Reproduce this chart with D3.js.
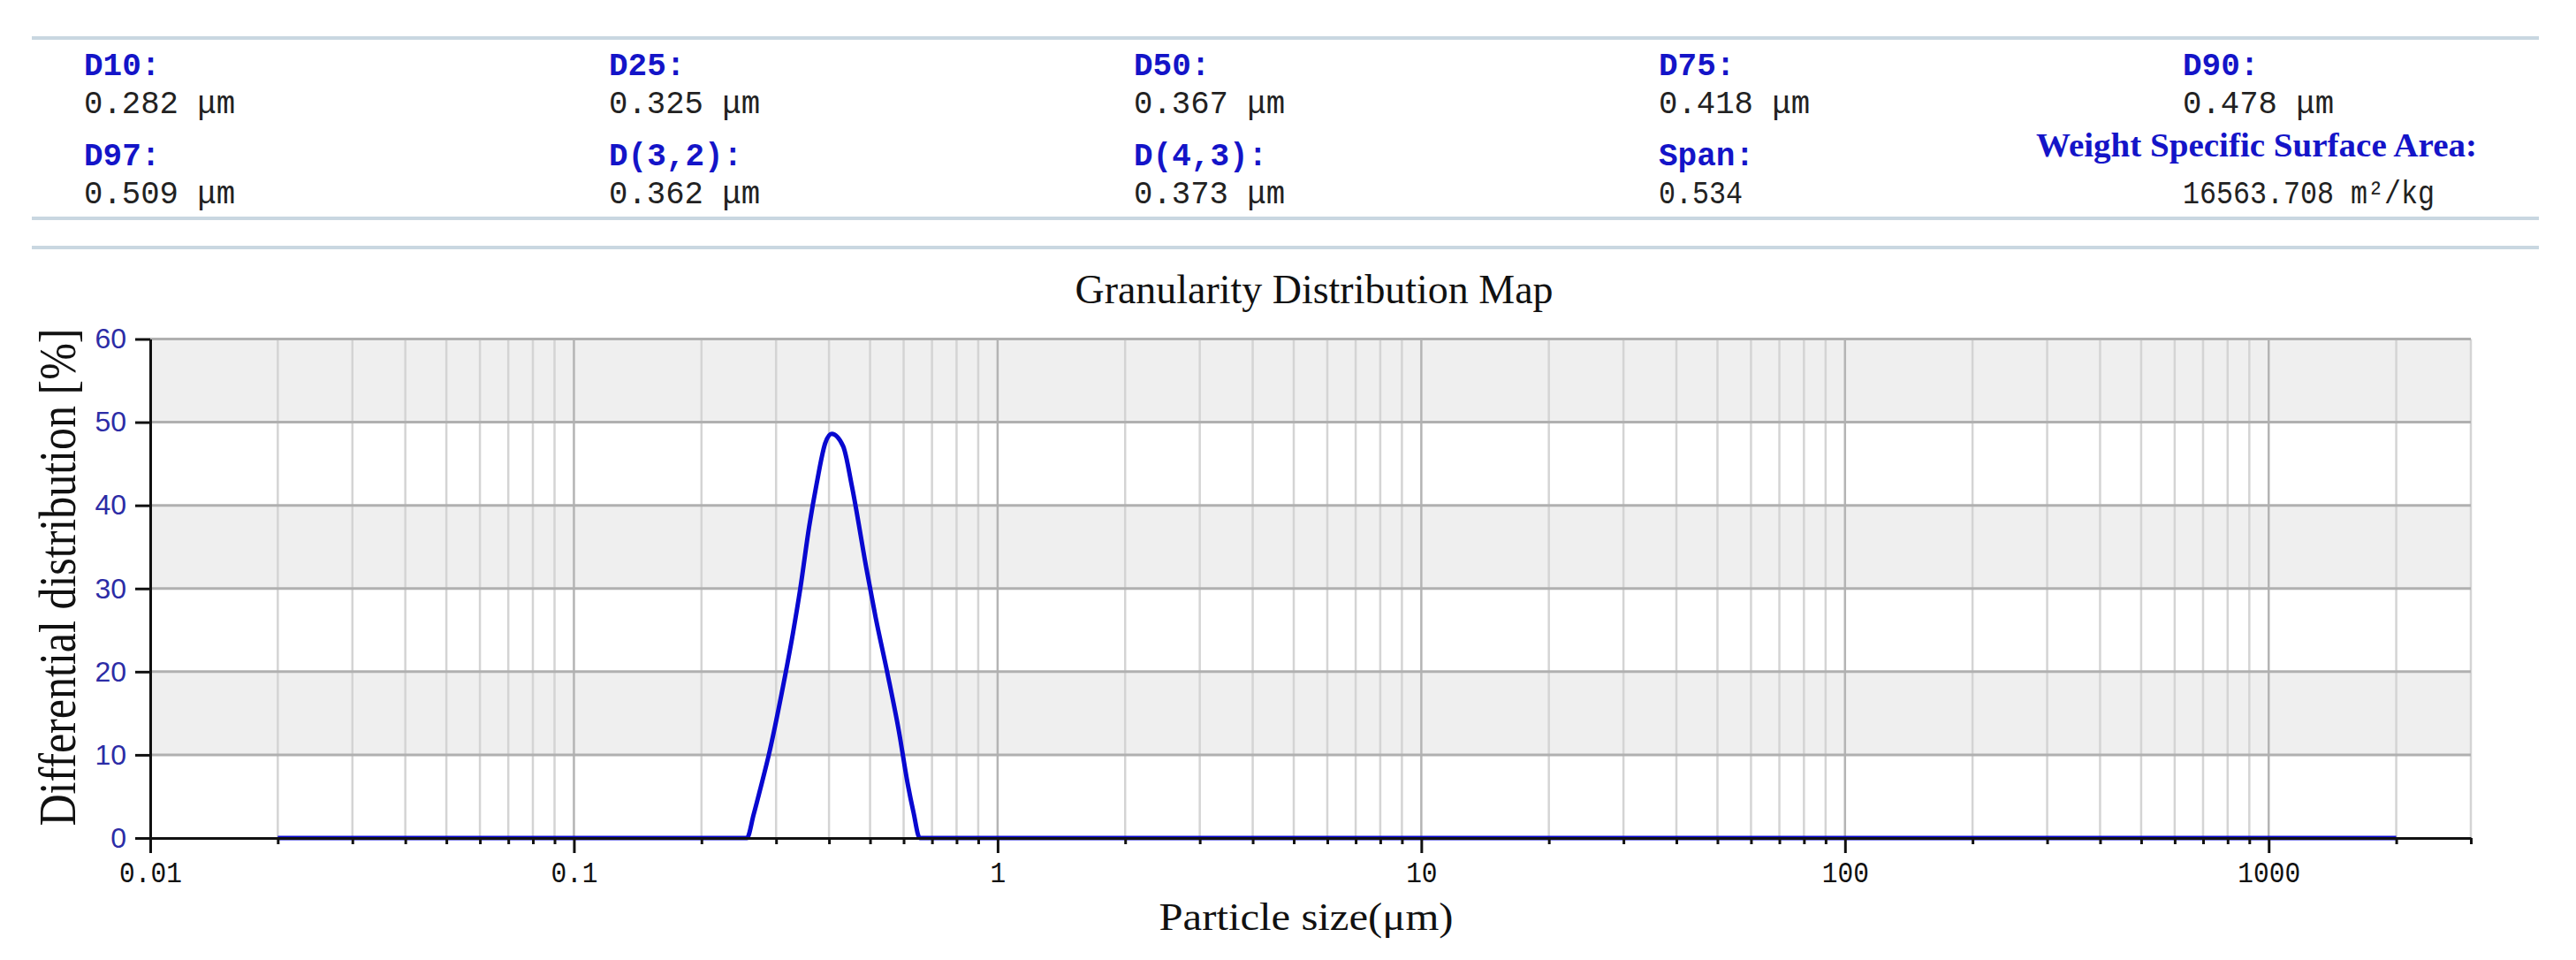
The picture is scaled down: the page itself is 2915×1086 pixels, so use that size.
<!DOCTYPE html>
<html>
<head>
<meta charset="utf-8">
<script src="https://cdn.jsdelivr.net/npm/d3@7"></script>
<style>
  body { margin: 0; background: #fff; }
  text { white-space: pre; }
</style>
</head>
<body>
<div id="chart"></div>
<script>
// summary values shown above the chart
const statNames1 = ["D10:", "D25:", "D50:", "D75:", "D90:"];
const statValues1 = ["0.282 μm", "0.325 μm", "0.367 μm", "0.418 μm", "0.478 μm"];
const statNames2 = ["D97:", "D(3,2):", "D(4,3):", "Span:", "Weight Specific Surface Area:"];
const statValues2 = ["0.509 μm", "0.362 μm", "0.373 μm", "0.534", "16563.708 m²/kg"];

// particle size (μm) and differential distribution (%)
const sizes = [0.02, 0.1, 0.2, 0.256, 0.2655, 0.276, 0.289, 0.309, 0.329, 0.342, 0.359, 0.374, 0.392, 0.406,
               0.432, 0.453, 0.491, 0.515, 0.549, 0.585, 0.614, 0.633, 0.655, 1, 10, 100, 2000];
const diffs = [0, 0, 0, 0, 2.8, 6.1, 10.2, 17.3, 24.7, 29.9, 37.4, 42.6, 47.5, 48.6,
               47.1, 42.3, 32.2, 26.6, 19.9, 12.8, 6.4, 3.1, 0, 0, 0, 0, 0];

const yTicks = [0, 10, 20, 30, 40, 50, 60];
const xMajor = [0.01, 0.1, 1, 10, 100, 1000];
const xLabels = ["0.01", "0.1", "1", "10", "100", "1000"];

const W = 2915, H = 1086;
const svg = d3.select("#chart").append("svg")
    .attr("width", W).attr("height", H);

// ---- header with the statistics ----
const lineColor = "#c9d7e1";
[43, 247, 280].forEach(yy => {
  svg.append("line")
      .attr("x1", 36).attr("x2", 2873).attr("y1", yy).attr("y2", yy)
      .attr("stroke", lineColor).attr("stroke-width", 4);
});

const colX = [95, 689, 1283, 1877, 2470];
const labelFont = "'Liberation Mono', 'DejaVu Sans Mono', monospace";

function statRow(names, values, yName, yVal) {
  names.forEach((n, i) => {
    const t = svg.append("text")
        .attr("x", colX[i]).attr("y", yName)
        .attr("fill", "#1414c8")
        .attr("font-weight", "bold")
        .text(n);
    if (n.length > 10) {
      // the long label is set in a serif face and starts further left
      t.attr("x", 2304).attr("y", yName - 10)
       .attr("font-family", "'Liberation Serif', 'Times New Roman', serif")
       .attr("font-size", 38)
       .attr("textLength", 499).attr("lengthAdjust", "spacingAndGlyphs");
    } else {
      t.attr("font-family", labelFont).attr("font-size", 37)
       .attr("textLength", n.length * 21.6).attr("lengthAdjust", "spacingAndGlyphs");
    }
    const v = values[i];
    svg.append("text")
        .attr("x", colX[i]).attr("y", yVal)
        .attr("font-family", labelFont).attr("font-size", 36)
        .attr("textLength", v.length * 19 + (v.indexOf("μ") >= 0 ? 19 : 0))
        .attr("lengthAdjust", "spacingAndGlyphs")
        .attr("fill", "#222")
        .text(v);
  });
}
statRow(statNames1, statValues1, 85, 128);
statRow(statNames2, statValues2, 187, 230);

// ---- chart ----
const x = d3.scaleLog().domain([0.01, 3000]).range([170, 2796]);
const y = d3.scaleLinear().domain([0, 60]).range([948, 383.5]);

svg.append("text")
    .attr("x", 1487).attr("y", 343)
    .attr("text-anchor", "middle")
    .attr("font-family", "'Liberation Serif', 'Times New Roman', serif")
    .attr("font-size", 47)
    .attr("textLength", 541).attr("lengthAdjust", "spacingAndGlyphs")
    .attr("fill", "#111")
    .text("Granularity Distribution Map");

const plot = svg.append("g");

// alternating grey bands
plot.selectAll("rect.band")
  .data(yTicks.filter(t => t < 60 && (t / 10) % 2 === 1))
  .enter().append("rect")
    .attr("class", "band")
    .attr("x", x(0.01)).attr("width", x(3000) - x(0.01))
    .attr("y", d => y(d + 10)).attr("height", d => y(d) - y(d + 10))
    .attr("fill", "#efefef");

// every tick position on the log axis
const allTicks = [];
for (let e = -2; e <= 3; e++) {
  for (let m = 1; m <= 9; m++) {
    const v = +(m * Math.pow(10, e)).toPrecision(3);
    if (v <= 3000) allTicks.push(v);
  }
}
const isMajor = v => xMajor.some(m => Math.abs(m - v) < 1e-9);

// vertical grid
plot.selectAll("line.vgrid")
  .data(allTicks.filter(v => v > 0.01))
  .enter().append("line")
    .attr("class", "vgrid")
    .attr("x1", d => x(d)).attr("x2", d => x(d))
    .attr("y1", y(60)).attr("y2", y(0))
    .attr("stroke", d => isMajor(d) ? "#b4b4b4" : "#d4d4d4")
    .attr("stroke-width", 2.5);

// horizontal grid
plot.selectAll("line.hgrid")
  .data(yTicks.filter(t => t > 0))
  .enter().append("line")
    .attr("class", "hgrid")
    .attr("x1", x(0.01)).attr("x2", x(3000))
    .attr("y1", d => y(d)).attr("y2", d => y(d))
    .attr("stroke", "#b0b0b0")
    .attr("stroke-width", 3);

// distribution curve
const line = d3.line()
    .x((d, i) => x(sizes[i]))
    .y(d => y(d))
    .curve(d3.curveMonotoneX);

plot.append("path")
    .datum(diffs)
    .attr("fill", "none")
    .attr("stroke", "#0808d0")
    .attr("stroke-width", 5)
    .attr("stroke-linejoin", "round")
    .attr("d", line);

// x axis
const xAxis = d3.axisBottom(x)
    .tickValues(allTicks)
    .tickSize(7)
    .tickSizeOuter(0)
    .tickFormat(d => {
      const k = xMajor.findIndex(m => Math.abs(m - d) < 1e-9);
      return k >= 0 ? xLabels[k] : "";
    });

const gx = svg.append("g")
    .attr("transform", "translate(0," + y(0) + ")")
    .call(xAxis);
gx.select(".domain").attr("stroke", "#111").attr("stroke-width", 3);
gx.selectAll(".tick line")
    .attr("stroke", "#111").attr("stroke-width", 3)
    .attr("y2", d => isMajor(d) ? 17 : 7);
gx.selectAll(".tick text")
    .attr("y", 27)
    .attr("font-family", labelFont)
    .attr("font-size", 33)
    .attr("textLength", function() { return this.textContent.length * 17.7; })
    .attr("lengthAdjust", "spacingAndGlyphs")
    .attr("fill", "#111");

// y axis
const yAxis = d3.axisLeft(y)
    .tickValues(yTicks)
    .tickSize(17)
    .tickSizeOuter(0)
    .tickPadding(10);

const gy = svg.append("g")
    .attr("transform", "translate(" + x(0.01) + ",0)")
    .call(yAxis);
gy.select(".domain").attr("stroke", "#111").attr("stroke-width", 3);
gy.selectAll(".tick line").attr("stroke", "#111").attr("stroke-width", 3);
gy.selectAll(".tick text")
    .attr("font-family", "'Liberation Sans', Arial, sans-serif")
    .attr("font-size", 32)
    .attr("fill", "#2c2ca6");

// axis titles
svg.append("text")
    .attr("x", 1478).attr("y", 1052)
    .attr("text-anchor", "middle")
    .attr("font-family", "'Liberation Serif', 'Times New Roman', serif")
    .attr("font-size", 45)
    .attr("textLength", 333).attr("lengthAdjust", "spacingAndGlyphs")
    .attr("fill", "#111")
    .text("Particle size(μm)");

svg.append("text")
    .attr("transform", "translate(85,653) rotate(-90)")
    .attr("text-anchor", "middle")
    .attr("font-family", "'Liberation Serif', 'Times New Roman', serif")
    .attr("font-size", 60)
    .attr("textLength", 563).attr("lengthAdjust", "spacingAndGlyphs")
    .attr("fill", "#111")
    .text("Differential distribution [%]");
</script>
</body>
</html>
